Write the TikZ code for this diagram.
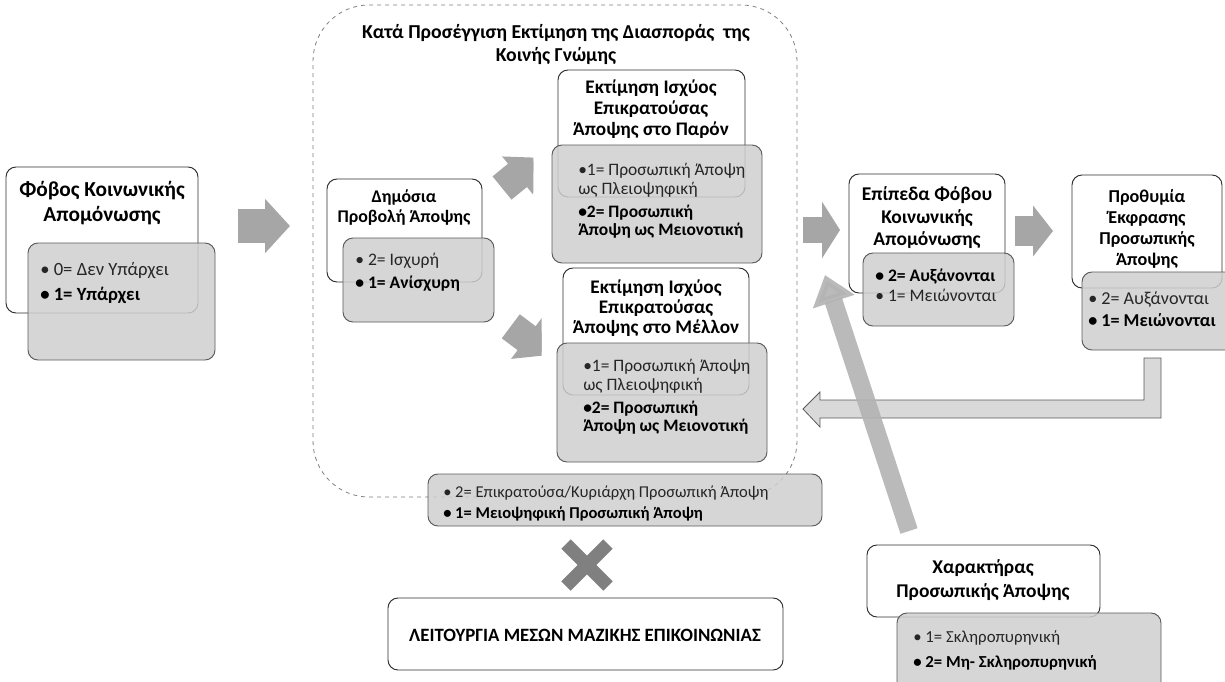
\documentclass[tikz,border=0pt]{standalone}
\usepackage{fontspec}
\setmainfont{Carlito}
\usetikzlibrary{arrows.meta,fit}
\definecolor{arr}{HTML}{A6A6A6}
\definecolor{arrdiag}{HTML}{B3B3B3}
\definecolor{boxgrey}{HTML}{CFCFCF}
\definecolor{gline}{HTML}{5A5A5A}
\definecolor{wline}{HTML}{2E2E2E}
\definecolor{txtgrey}{HTML}{262626}
\definecolor{retfill}{HTML}{D9D9D9}
\definecolor{xgrey}{HTML}{808080}
\definecolor{dashgrey}{HTML}{808080}
\newcommand\fs[2]{\fontsize{#1}{#2}\selectfont}
\newcommand\bb[1]{{\color{black}\bfseries #1}}
\begin{document}
\begin{tikzpicture}[x=0.75pt,y=-0.75pt,
  wbox/.style={draw=wline,fill=white,rounded corners=7.5pt,inner sep=0pt,line width=0.7pt},
  gbox/.style={draw=gline,fill=boxgrey,fill opacity=0.85,rounded corners=7.5pt,inner sep=0pt,line width=0.7pt},
  ttl/.style={align=center,inner sep=0pt},
  blt/.style={align=left,anchor=west,inner sep=0pt,text=txtgrey},
  blk/.style={draw=arr,line cap=butt}]
\useasboundingbox (0,0) rectangle (1225,682);

% dashed container
\node[draw=dashgrey,dashed,line width=0.6pt,rounded corners=42pt,inner sep=0pt,fit={(313,5) (797,497)}] (cont) {};
\node[ttl,font=\bfseries\fs{14.8}{17.25}] (contT) at (556,45) {Κατά Προσέγγιση Εκτίμηση της Διασποράς~ της\\Κοινής Γνώμης};

% white boxes
\node[wbox,fit={(6,167) (198,313)}] (fear) {};
\node[wbox,fit={(327,179) (482,282)}] (pub) {};
\node[wbox,fit={(558,70) (745,197)}] (pres) {};
\node[wbox,fit={(563,268) (749,395)}] (fut) {};
\node[wbox,fit={(849,174) (1005,293)}] (lvl) {};
\node[wbox,fit={(1072,175) (1222,288)}] (will) {};
\node[wbox,fit={(867,545) (1100,617)}] (char) {};
\node[wbox,fit={(388,598) (783,670)}] (media) {};

% grey boxes
\node[gbox,fit={(28,243) (215,360)}] (fearG) {};
\node[gbox,fit={(343,238) (494,322)}] (pubG) {};
\node[gbox,fit={(552,145) (762,263)}] (presG) {};
\node[gbox,fit={(557,343) (767,462)}] (futG) {};
\node[gbox,fit={(863,253) (1014,326)}] (lvlG) {};
\node[gbox,fit={(1082,272) (1240,350)}] (willG) {};
\node[gbox,fit={(897,613) (1161,700)}] (charG) {};
\node[gbox,fit={(428,474) (822,526)}] (opG) {};

% titles
\node[ttl,font=\bfseries\fs{16}{18.75}] (fearT) at (102,203) {Φόβος Κοινωνικής\\Απομόνωσης};
\node[ttl,font=\bfseries\fs{13.4}{15}] (pubT) at (404,208) {Δημόσια\\Προβολή Άποψης};
\node[ttl,font=\bfseries\fs{14.4}{15.75}] (presT) at (651,109) {Εκτίμηση Ισχύος\\Επικρατούσας\\Άποψης στο Παρόν};
\node[ttl,font=\bfseries\fs{14.4}{15}] (futT) at (656,308) {Εκτίμηση Ισχύος\\Επικρατούσας\\Άποψης στο Μέλλον};
\node[ttl,font=\bfseries\fs{14.6}{16.9}] (lvlT) at (927,218) {Επίπεδα Φόβου\\Κοινωνικής\\Απομόνωσης};
\node[ttl,font=\bfseries\fs{13.6}{15.75}] (willT) at (1147,229) {Προθυμία\\Έκφρασης\\Προσωπικής\\Άποψης};
\node[ttl,font=\bfseries\fs{14.6}{18}] (charT) at (983,580) {Χαρακτήρας\\Προσωπικής Άποψης};
\node[ttl,font=\bfseries\fs{14.1}{15}] (mediaT) at (585,635) {ΛΕΙΤΟΥΡΓΙΑ ΜΕΣΩΝ ΜΑΖΙΚΗΣ ΕΠΙΚΟΙΝΩΝΙΑΣ};

% bullets
\node[blt,font=\fs{14}{18.75}] (fearB) at (40,283) {• 0= Δεν Υπάρχει\\\bb{• 1= Υπάρχει}};
\node[blt,font=\fs{13.2}{17.25}] (pubB) at (355,272) {• 2= Ισχυρή\\\bb{• 1= Ανίσχυρη}};
\node[blt,font=\fs{13.1}{14}] (presB) at (578,201) {•1= Προσωπική Άποψη\\ως Πλειοψηφική\\[3pt]\bb{•2= Προσωπική}\\\bb{Άποψη ως Μειονοτική}};
\node[blt,font=\fs{13.1}{14}] (futB) at (583,397) {•1= Προσωπική Άποψη\\ως Πλειοψηφική\\[3pt]\bb{•2= Προσωπική}\\\bb{Άποψη ως Μειονοτική}};
\node[blt,font=\fs{13.2}{15}] (lvlB) at (875,285) {\bb{• 2= Αυξάνονται}\\• 1= Μειώνονται};
\node[blt,font=\fs{13.6}{16.5}] (willB) at (1088,309) {• 2= Αυξάνονται\\\bb{• 1= Μειώνονται}};
\node[blt,font=\fs{12.4}{15.75}] (opB) at (443,503) {• 2= Επικρατούσα/Κυριάρχη Προσωπική Άποψη\\\bb{• 1= Μειοψηφική Προσωπική Άποψη}};
\node[blt,font=\fs{12.6}{18.75}] (charB) at (913,650) {• 1= Σκληροπυρηνική\\\bb{• 2= Μη- Σκληροπυρηνική}};

% block arrows
\coordinate (a1s) at (238,226); \coordinate (a1e) at (290,226);
\draw[blk,line width=25.5pt,-{Triangle[width=39.75pt,length=18.75pt]}] (a1s) -- (a1e);
\begin{scope}
\clip (480,140) rectangle (533.3,215);
\coordinate (a2s) at (502,188); \coordinate (a2e) at (539.2,157.7);
\draw[blk,line width=22.5pt,-{Triangle[width=35.25pt,length=21pt]}] (a2s) -- (a2e);
\end{scope}
\begin{scope}
\clip (480,300) rectangle (541.7,380);
\coordinate (a3s) at (510.8,326.3); \coordinate (a3e) at (549,355);
\draw[blk,line width=22.5pt,-{Triangle[width=37.5pt,length=21pt]}] (a3s) -- (a3e);
\end{scope}
\coordinate (a4s) at (803,230); \coordinate (a4e) at (840,230);
\draw[blk,line width=19.5pt,-{Triangle[width=42pt,length=13.5pt]}] (a4s) -- (a4e);
\coordinate (a5s) at (1015,231); \coordinate (a5e) at (1053,231);
\draw[blk,line width=22.5pt,-{Triangle[width=37.5pt,length=15pt]}] (a5s) -- (a5e);

% return bent arrow
\draw[fill=retfill,draw=gline,line width=0.6pt] (1161,358) -- (1161,418) -- (820,418) -- (820,427) -- (803,409) -- (820,392) -- (820,400) -- (1144,400) -- (1144,358) -- cycle;

% diagonal arrow from character box
\coordinate (a6s) at (909,531); \coordinate (a6e) at (825,275);
\draw[draw=arrdiag,opacity=0.9,line width=13.5pt,-{Triangle[width=31.5pt,length=21pt]}] (a6s) -- (a6e);

% X mark
\coordinate (x1) at (566,544); \coordinate (x2) at (608,586);
\coordinate (x3) at (608,544); \coordinate (x4) at (566,586);
\draw[draw=xgrey,line width=10pt] (x1) -- (x2);
\draw[draw=xgrey,line width=10pt] (x3) -- (x4);
\end{tikzpicture}
\end{document}
